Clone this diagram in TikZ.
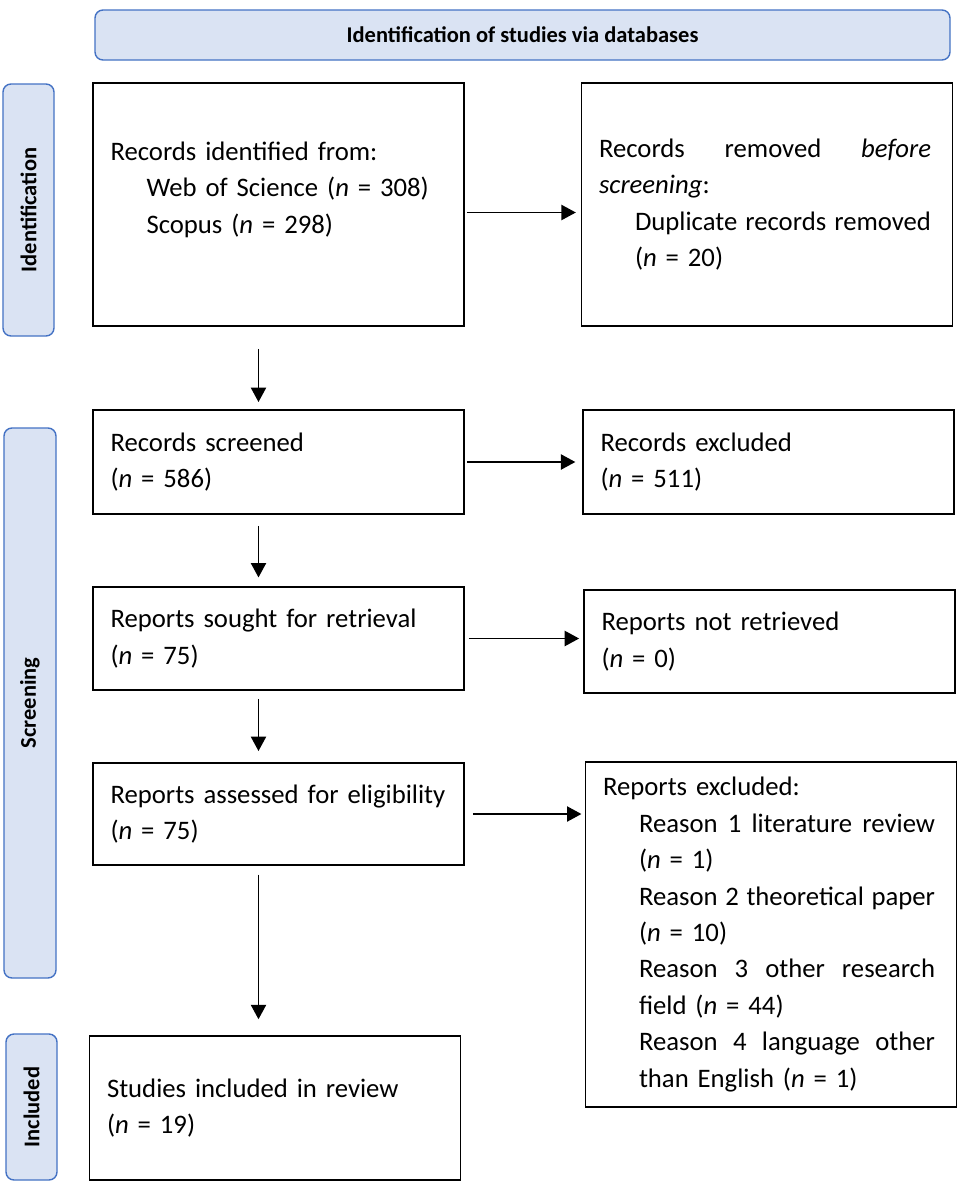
\documentclass[tikz,border=0pt]{standalone}
\usepackage{fontspec}
\setmainfont{Carlito}
\usetikzlibrary{arrows.meta}

\definecolor{phasefill}{HTML}{DAE3F3}
\definecolor{phaseline}{HTML}{4472C4}
\newcommand{\fullline}[1]{\makebox[8.3cm][l]{#1}}
\newcommand{\indline}[1]{\hspace*{0.9cm}\makebox[7.4cm][l]{#1}}
\newcommand{\ind}{\hspace*{0.9cm}}
\newcommand{\nn}{\textit{n}}

\begin{document}
\begin{tikzpicture}[>/.tip={Triangle[length=0.36cm,width=0.38cm]},
	box/.style={draw,line width=1.1pt,inner xsep=0.44cm,inner ysep=0pt,text width=8.4cm,align=left,font=\fontsize{19}{25.9}\selectfont},
	phase/.style={draw=phaseline,fill=phasefill,line width=1pt,rounded corners=0.2cm,inner sep=0pt,font=\fontsize{16}{19}\selectfont\bfseries},
	flow/.style={->,line width=1.1pt}]
	\useasboundingbox (0,0) rectangle (23.975,-29.725);

	\draw (13.0625,-0.875) node (head) [phase,minimum width=21.375cm,minimum height=1.25cm] {Identification of studies via databases};

	\draw (0.7125,-5.25) node (idlab) [phase,rotate=90,minimum width=6.3cm,minimum height=1.275cm] {Identification};
	\draw (0.75,-17.575) node (scrlab) [phase,rotate=90,minimum width=13.75cm,minimum height=1.3cm] {Screening};
	\draw (0.7875,-27.675) node (inclab) [phase,rotate=90,minimum width=3.65cm,minimum height=1.275cm] {Included};

	\draw (6.9625,-5.1125) node (ident) [box,minimum height=6.075cm] {Records identified from:\\ \ind Web of Science (\nn{} = 308)\\ \ind Scopus (\nn{} = 298)\\[-2pt]\mbox{}};
	\draw (19.175,-5.1125) node (removed) [box,minimum height=6.075cm] {\fullline{Records\hfill removed\hfill \textit{before}}\\ \textit{screening}:\\ \indline{Duplicate\hfill records\hfill removed}\\ \ind(\nn{} = 20)};

	\draw (6.9625,-11.55) node (screen) [box,minimum height=2.6cm] {Records screened\\ (\nn{} = 586)};
	\draw (19.2125,-11.55) node (excl) [box,minimum height=2.6cm] {Records excluded\\ (\nn{} = 511)};

	\draw (6.9625,-15.9625) node (sought) [box,minimum height=2.575cm] {Reports sought for retrieval\\ (\nn{} = 75)};
	\draw (19.2375,-16.0375) node (notret) [box,minimum height=2.575cm] {Reports not retrieved\\ (\nn{} = 0)};

	\draw (6.9625,-20.35) node (assessed) [box,minimum height=2.55cm] {Reports assessed for eligibility\\ (\nn{} = 75)};
	\draw (19.275,-23.3625) node (repexcl) [box,minimum height=8.625cm] {Reports excluded:\\ \indline{Reason\hfill 1\hfill literature\hfill review}\\ \ind(\nn{} = 1)\\ \indline{Reason\hfill 2\hfill theoretical\hfill paper}\\ \ind(\nn{} = 10)\\ \indline{Reason\hfill 3\hfill other\hfill research}\\ \ind field (\nn{} = 44)\\ \indline{Reason\hfill 4\hfill language\hfill other}\\ \ind than English (\nn{} = 1)};

	\draw (6.875,-27.7) node (incl) [box,minimum height=3.6cm] {Studies included in review\\ (\nn{} = 19)};

	\draw[flow,shorten <=0.55cm,shorten >=0.18cm] ([xshift=-0.5cm]ident.south) -- ([xshift=-0.5cm]screen.north);
	\draw[flow,shorten <=0.28cm,shorten >=0.22cm] ([xshift=-0.5cm]screen.south) -- ([xshift=-0.5cm]sought.north);
	\draw[flow,shorten <=0.2cm,shorten >=0.28cm] ([xshift=-0.5cm]sought.south) -- ([xshift=-0.5cm]assessed.north);
	\draw[flow,shorten <=0.22cm,shorten >=0.4cm] ([xshift=-0.5cm]assessed.south) -- ([xshift=-0.5cm]assessed.south |- incl.north);

	\draw[flow,shorten <=0.05cm,shorten >=0.12cm] ([yshift=-0.2cm]ident.east) -- ([yshift=-0.2cm]ident.east -| removed.west);
	\draw[flow,shorten <=0.05cm,shorten >=0.17cm] (screen.east) -- (excl.west);
	\draw[flow,shorten <=0.1cm,shorten >=0.1cm] (sought.east) -- (sought.east -| notret.west);
	\draw[flow,shorten <=0.2cm,shorten >=0.08cm] (assessed.east) -- (assessed.east -| repexcl.west);
\end{tikzpicture}
\end{document}
